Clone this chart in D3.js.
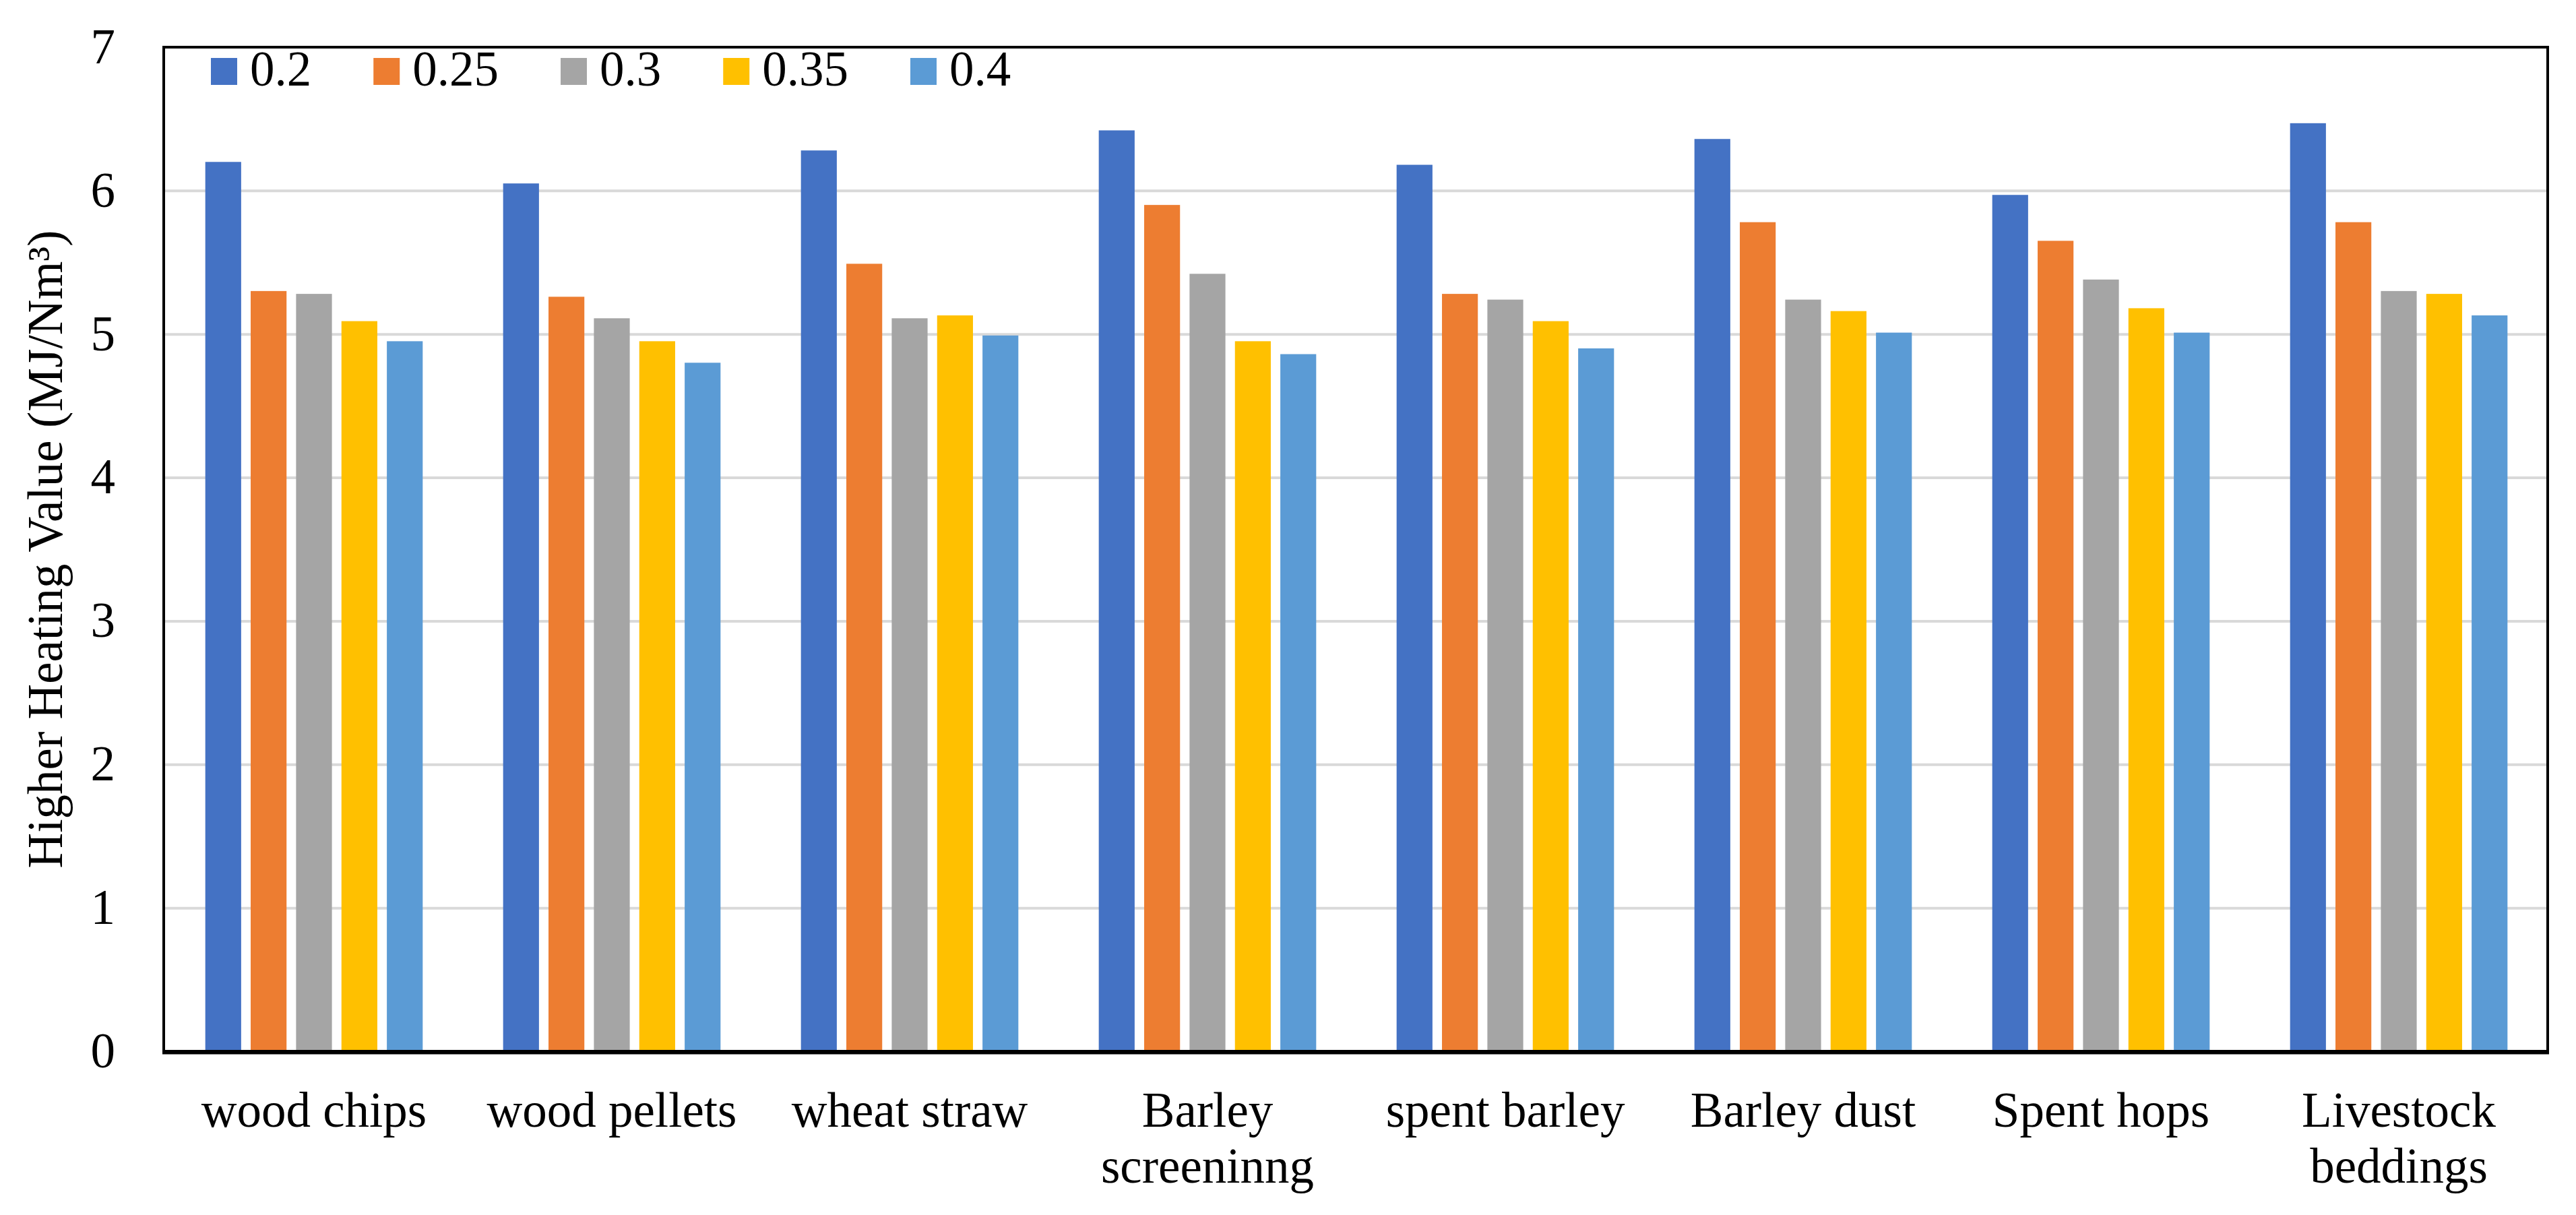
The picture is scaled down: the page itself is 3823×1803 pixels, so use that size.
<!DOCTYPE html>
<html>
<head>
<meta charset="utf-8">
<script src="https://d3js.org/d3.v7.min.js"></script>
<style>
  body { margin: 0; background: #fff; }
  text { font-family: "Liberation Serif", "Times New Roman", serif; fill: #000; }
</style>
</head>
<body>
<div id="chart-container"></div>
<script>
// Data
var categories = ["wood chips", "wood pellets", "wheat straw", "Barley screeninng",
    "spent barley", "Barley dust", "Spent hops", "Livestock beddings"];
var series = ["0.2", "0.25", "0.3", "0.35", "0.4"];
var colors = ["#4472C4", "#ED7D31", "#A5A5A5", "#FFC000", "#5B9BD5"];

var values02  = [6.20, 6.05, 6.28, 6.42, 6.18, 6.36, 5.97, 6.47];
var values025 = [5.30, 5.26, 5.49, 5.90, 5.28, 5.78, 5.65, 5.78];
var values03  = [5.28, 5.11, 5.11, 5.42, 5.24, 5.24, 5.38, 5.30];
var values035 = [5.09, 4.95, 5.13, 4.95, 5.09, 5.16, 5.18, 5.28];
var values04  = [4.95, 4.80, 4.99, 4.86, 4.90, 5.01, 5.01, 5.13];
var seriesValues = [values02, values025, values03, values035, values04];

var yTicks = [0, 1, 2, 3, 4, 5, 6, 7];
var yTitle = "Higher Heating Value (MJ/Nm³)";

const margin = { top: 70, right: 42, bottom: 243, left: 245 };
const width = 3823 - margin.left - margin.right;
const height = 1803 - margin.top - margin.bottom;
const fontSize = 73;

var root = d3.select("#chart-container")
    .append("svg")
    .attr("width", 3823)
    .attr("height", 1803);

var svg = root.append("g")
    .attr("transform", `translate(${margin.left}, ${margin.top})`);

// Scales
var x0 = d3.scaleBand()
    .domain(categories)
    .range([0, width])
    .paddingInner(0.27)
    .paddingOuter(0.135);

var x1 = d3.scaleBand()
    .domain(series)
    .range([0, x0.bandwidth()])
    .paddingInner(0.21);

var y = d3.scaleLinear()
    .domain([0, 7])
    .range([height, 0]);

// Gridlines
svg.append("g")
    .attr("class", "grid")
    .call(d3.axisLeft(y)
        .tickValues(yTicks.slice(1, -1))
        .tickSize(-width)
        .tickFormat("")
    )
    .call(g => g.select(".domain").remove())
    .selectAll(".tick line")
    .attr("stroke", "#D9D9D9")
    .attr("stroke-width", 4);

// Bars
var groups = svg.selectAll(".group")
    .data(categories)
    .enter()
    .append("g")
    .attr("class", "group")
    .attr("transform", d => `translate(${x0(d)}, 0)`);

groups.selectAll("rect")
    .data((d, i) => series.map((s, j) => ({ key: s, value: seriesValues[j][i], color: colors[j] })))
    .enter()
    .append("rect")
    .attr("x", d => x1(d.key))
    .attr("y", d => y(d.value))
    .attr("width", x1.bandwidth())
    .attr("height", d => height - y(d.value))
    .attr("fill", d => d.color);

// Frame
svg.append("rect")
    .attr("x", -2)
    .attr("y", 0)
    .attr("width", width + 2)
    .attr("height", height)
    .attr("fill", "none")
    .attr("stroke", "#000")
    .attr("stroke-width", 4);

svg.append("line")
    .attr("x1", -4)
    .attr("x2", width + 2)
    .attr("y1", height + 2)
    .attr("y2", height + 2)
    .attr("stroke", "#000")
    .attr("stroke-width", 5);

// Y axis labels
svg.append("g")
    .call(d3.axisLeft(y)
        .tickValues(yTicks)
        .tickSize(0)
        .tickPadding(74)
        .tickFormat(d3.format("d"))
    )
    .call(g => g.select(".domain").remove())
    .selectAll("text")
    .style("font-size", fontSize + "px")
    .style("font-family", "'Liberation Serif', 'Times New Roman', serif")
    .attr("fill", "#000");

// X axis labels
svg.append("g")
    .attr("transform", `translate(0, ${height})`)
    .call(d3.axisBottom(x0).tickSize(0))
    .call(g => g.select(".domain").remove())
    .selectAll("text")
    .style("font-size", fontSize + "px")
    .style("font-family", "'Liberation Serif', 'Times New Roman', serif")
    .attr("fill", "#000")
    .attr("y", 112)
    .attr("dy", null)
    .call(wrap, 430);

// Y axis title
svg.append("text")
    .attr("transform", "rotate(-90)")
    .attr("x", -height / 2)
    .attr("y", 92 - margin.left)
    .attr("text-anchor", "middle")
    .style("font-size", fontSize + "px")
    .text(yTitle);

// Legend
var legendX = 313;
series.forEach(function (s, i) {
    root.append("rect")
        .attr("x", legendX)
        .attr("y", 86)
        .attr("width", 39)
        .attr("height", 40)
        .attr("fill", colors[i]);

    var label = root.append("text")
        .attr("x", legendX + 58)
        .attr("y", 127)
        .style("font-size", fontSize + "px")
        .text(s);

    legendX += 58 + label.node().getComputedTextLength() + 92;
});

// Wrap long category names onto several lines
function wrap(text, maxWidth) {
    text.each(function () {
        var t = d3.select(this);
        var words = t.text().split(/\s+/);
        var yPos = t.attr("y");
        var lines = [];
        var line = [];
        t.text(null);
        var tspan = t.append("tspan").attr("x", 0).attr("y", yPos);
        words.forEach(function (w) {
            line.push(w);
            tspan.text(line.join(" "));
            if (tspan.node().getComputedTextLength() > maxWidth && line.length > 1) {
                line.pop();
                lines.push(line.join(" "));
                line = [w];
            }
        });
        lines.push(line.join(" "));
        t.text(null);
        lines.forEach(function (l, i) {
            t.append("tspan")
                .attr("x", 0)
                .attr("y", yPos)
                .attr("dy", (i * 1.14) + "em")
                .text(l);
        });
    });
}
</script>
</body>
</html>
